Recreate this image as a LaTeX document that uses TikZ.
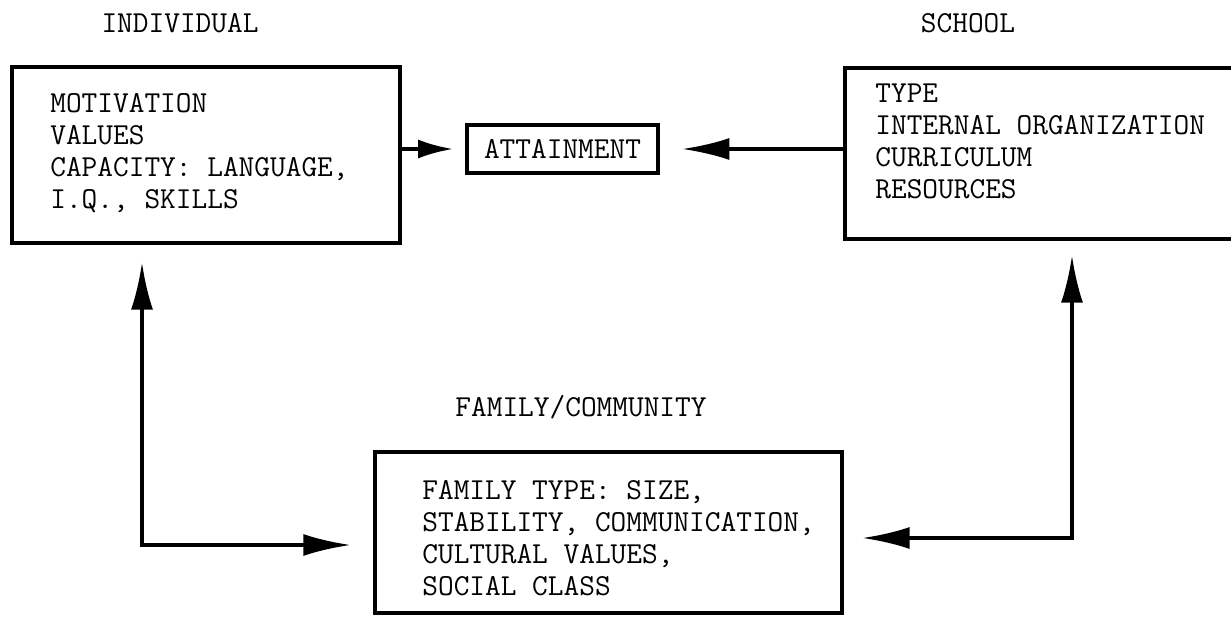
\documentclass[tikz,border=0pt]{standalone}
\usepackage{fontspec}
\usepackage{tikz}
\usetikzlibrary{arrows.meta,calc}
\newcommand{\typed}{\ttfamily\fontsize{17.35pt}{18.2pt}\selectfont}
\tikzset{
  box/.style={draw,line width=2.5pt,inner sep=0pt,font=\typed},
  boxtext/.style={anchor=north west,inner sep=0pt,align=left,font=\typed},
  heading/.style={anchor=base,inner sep=0pt,font=\typed},
  conn/.style={line width=2.1pt,-{Latex[length=0.95cm,width=0.44cm]}},
  twoway/.style={line width=2.1pt,{Latex[length=0.95cm,width=0.44cm]}-{Latex[length=0.95cm,width=0.44cm]}},
}

\begin{document}
\begin{tikzpicture}[x=0.02cm,y=-0.02cm]
    \useasboundingbox (0,0) rectangle (1231,621);
    \clip (0,0) rectangle (1231,621);

    % the three groups of factors
    \node[heading] (indivhead) at (180,33) {INDIVIDUAL};
    \node[box,minimum width=7.76cm,minimum height=3.52cm] (indiv) at (206,155) {};
    \node[boxtext] (indivtxt) at (50,93) {MOTIVATION\\VALUES\\CAPACITY: LANGUAGE,\\I.Q., SKILLS};

    \node[heading] (schoolhead) at (968,33) {SCHOOL};
    \node[box,minimum width=8.3cm,minimum height=3.42cm] (school) at (1052.5,153.5) {};
    \node[boxtext] (schooltxt) at (875,84) {TYPE\\INTERNAL ORGANIZATION\\CURRICULUM\\RESOURCES};

    \node[heading] (famhead) at (581,417) {FAMILY/COMMUNITY};
    \node[box,minimum width=9.34cm,minimum height=3.22cm] (fam) at (608.5,532.5) {};
    \node[boxtext] (famtxt) at (422,480) {FAMILY TYPE: SIZE,\\STABILITY, COMMUNICATION,\\CULTURAL VALUES,\\SOCIAL CLASS};

    \node[box,line width=2.2pt,minimum width=3.82cm,minimum height=0.96cm] (attain) at (562.5,149) {ATTAINMENT};

    % arrows into attainment
    \draw[line width=2.1pt,-{Latex[length=0.7cm,width=0.38cm]},shorten >=12*0.02cm]
      (indiv.east |- attain.west) -- (attain.west);
    \draw[conn,shorten >=22*0.02cm] (school.west |- attain.east) -- (attain.east);

    % loops through family/community
    \coordinate (lc) at (142,545);
    \coordinate (rc) at (1072,538);
    \draw[twoway,shorten <=17*0.02cm,shorten >=22*0.02cm]
      (lc |- indiv.south) -- (lc) -- (lc -| fam.west);
    \draw[twoway,shorten <=14*0.02cm,shorten >=18*0.02cm]
      (rc |- school.south) -- (rc) -- (rc -| fam.east);
\end{tikzpicture}
\end{document}
